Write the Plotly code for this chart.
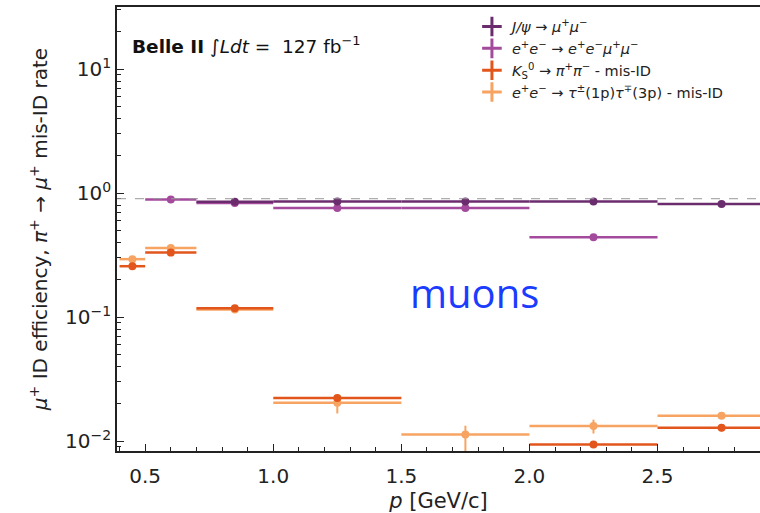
import plotly.graph_objects as go

# ---- data ----
jpsi_x = [0.85, 1.25, 1.75, 2.25, 2.75]
jpsi_xerr = [0.15, 0.25, 0.25, 0.25, 0.25]
jpsi_y = [0.85, 0.855, 0.855, 0.855, 0.815]
jpsi_yerr = [0.01, 0.01, 0.01, 0.01, 0.01]

eemm_x = [0.6, 0.85, 1.25, 1.75, 2.25]
eemm_xerr = [0.1, 0.15, 0.25, 0.25, 0.25]
eemm_y = [0.885, 0.83, 0.757, 0.757, 0.44]
eemm_yerr = [0.01, 0.01, 0.01, 0.01, 0.01]

ks_x = [0.45, 0.6, 0.85, 1.25, 2.25, 2.75]
ks_xerr = [0.05, 0.1, 0.15, 0.25, 0.25, 0.25]
ks_y = [0.257, 0.331, 0.118, 0.0222, 0.0094, 0.0128]
ks_yerr = [0.005, 0.005, 0.002, 0.0004, 0.0003, 0.0008]

tau_x = [0.45, 0.6, 0.85, 1.25, 1.75, 2.25, 2.75]
tau_xerr = [0.05, 0.1, 0.15, 0.25, 0.25, 0.25, 0.25]
tau_y = [0.293, 0.361, 0.115, 0.0204, 0.0113, 0.0132, 0.0160]
tau_yerr_up = [0.01, 0.01, 0.004, 0.002, 0.002, 0.0017, 0.0009]
tau_yerr_dn = [0.01, 0.01, 0.004, 0.0037, 0.004, 0.0017, 0.0009]

names = [
    "<i>J/ψ</i> → <i>μ</i><sup>+</sup><i>μ</i><sup>−</sup>",
    "<i>e</i><sup>+</sup><i>e</i><sup>−</sup> → <i>e</i><sup>+</sup><i>e</i><sup>−</sup><i>μ</i><sup>+</sup><i>μ</i><sup>−</sup>",
    "<i>K</i><sub>S</sub><sup>0</sup> → <i>π</i><sup>+</sup><i>π</i><sup>−</sup> - mis-ID",
    "<i>e</i><sup>+</sup><i>e</i><sup>−</sup> → <i>τ</i><sup>±</sup>(1p)<i>τ</i><sup>∓</sup>(3p) - mis-ID",
]
colors = ["#6b2c6e", "#a44a9c", "#e2561c", "#f7a463"]

y_tickvals = [0.01, 0.1, 1, 10]
y_ticktext = ["10<sup>−2</sup>", "10<sup>−1</sup>", "10<sup>0</sup>", "10<sup>1</sup>"]
x_tickvals = [0.5, 1.0, 1.5, 2.0, 2.5]
x_ticktext = ["0.5", "1.0", "1.5", "2.0", "2.5"]
y_minor = [m * 10.0 ** e for e in range(-3, 2) for m in range(2, 10)]

fig = go.Figure()

series = [
    (tau_x, tau_xerr, tau_y, tau_yerr_up, tau_yerr_dn, 3),
    (ks_x, ks_xerr, ks_y, ks_yerr, ks_yerr, 2),
    (eemm_x, eemm_xerr, eemm_y, eemm_yerr, eemm_yerr, 1),
    (jpsi_x, jpsi_xerr, jpsi_y, jpsi_yerr, jpsi_yerr, 0),
]
for xs, xe, ys, yu, yd, ci in series:
    c = colors[ci]
    fig.add_trace(go.Scatter(
        x=xs, y=ys, mode="markers",
        marker=dict(color=c, size=8),
        error_x=dict(type="data", array=xe, color=c, thickness=2.5, width=0),
        error_y=dict(type="data", array=yu, arrayminus=yd, symmetric=False,
                     color=c, thickness=2, width=0),
        showlegend=False,
    ))

# legend-only entries
for n, c in zip(names, colors):
    fig.add_trace(go.Scatter(
        x=[None], y=[None], mode="markers", name=n,
        marker=dict(color=c, size=14, symbol="cross-thin", line=dict(color=c, width=3)),
    ))

fig.add_shape(type="line", xref="paper", x0=0, x1=1, yref="y", y0=0.9, y1=0.9,
              line=dict(color="#999999", width=1, dash="dash"))

fig.add_annotation(xref="paper", yref="paper", x=0.02, y=0.914, xanchor="left", yanchor="middle",
                   text="<b>Belle II</b> ∫<i>Ldt</i> =  127 fb<sup>−1</sup>",
                   showarrow=False, font=dict(size=18.5, color="#111111"))
fig.add_annotation(x=1.787, y=-0.798, xref="x", yref="y",
                   text="muons", showarrow=False,
                   font=dict(size=40, color="#1a3cff", family="Open Sans, DejaVu Sans"))

fig.update_layout(
    width=760, height=513,
    margin=dict(l=117, r=0, t=7, b=62, autoexpand=False),
    plot_bgcolor="white", paper_bgcolor="white",
    font=dict(family="DejaVu Sans", size=20, color="#222222"),
    legend=dict(x=0.552, y=0.992, xanchor="left", yanchor="top",
                font=dict(size=14.5), bgcolor="rgba(0,0,0,0)", tracegroupgap=0),
    xaxis=dict(
        range=[0.39, 2.9], tickvals=x_tickvals, ticktext=x_ticktext,
        ticks="inside", ticklen=7, tickwidth=1.2, tickcolor="#222",
        ticklabelstandoff=6,
        minor=dict(ticks="inside", dtick=0.1, ticklen=4, tickcolor="#222"),
        showline=True, linecolor="#222", linewidth=1.8, mirror=True,
        showgrid=False, zeroline=False,
        title=dict(text="<i>p</i> [GeV/c]", font=dict(size=21), standoff=8),
    ),
    yaxis=dict(
        type="log", range=[-2.08, 1.5], tickvals=y_tickvals, ticktext=y_ticktext,
        ticks="inside", ticklen=7, tickwidth=1.2, tickcolor="#222",
        minor=dict(ticks="inside", tickvals=y_minor, ticklen=4, tickcolor="#222"),
        showline=True, linecolor="#222", linewidth=1.8,
        showgrid=False, zeroline=False,
        title=dict(text="<i>μ</i><sup>+</sup> ID efficiency, <i>π</i><sup>+</sup> → <i>μ</i><sup>+</sup> mis-ID rate",
                   font=dict(size=20), standoff=12),
    ),
)

fig.write_html("out.html", config={"displayModeBar": False},
               post_script="document.body.style.margin='0px';")
